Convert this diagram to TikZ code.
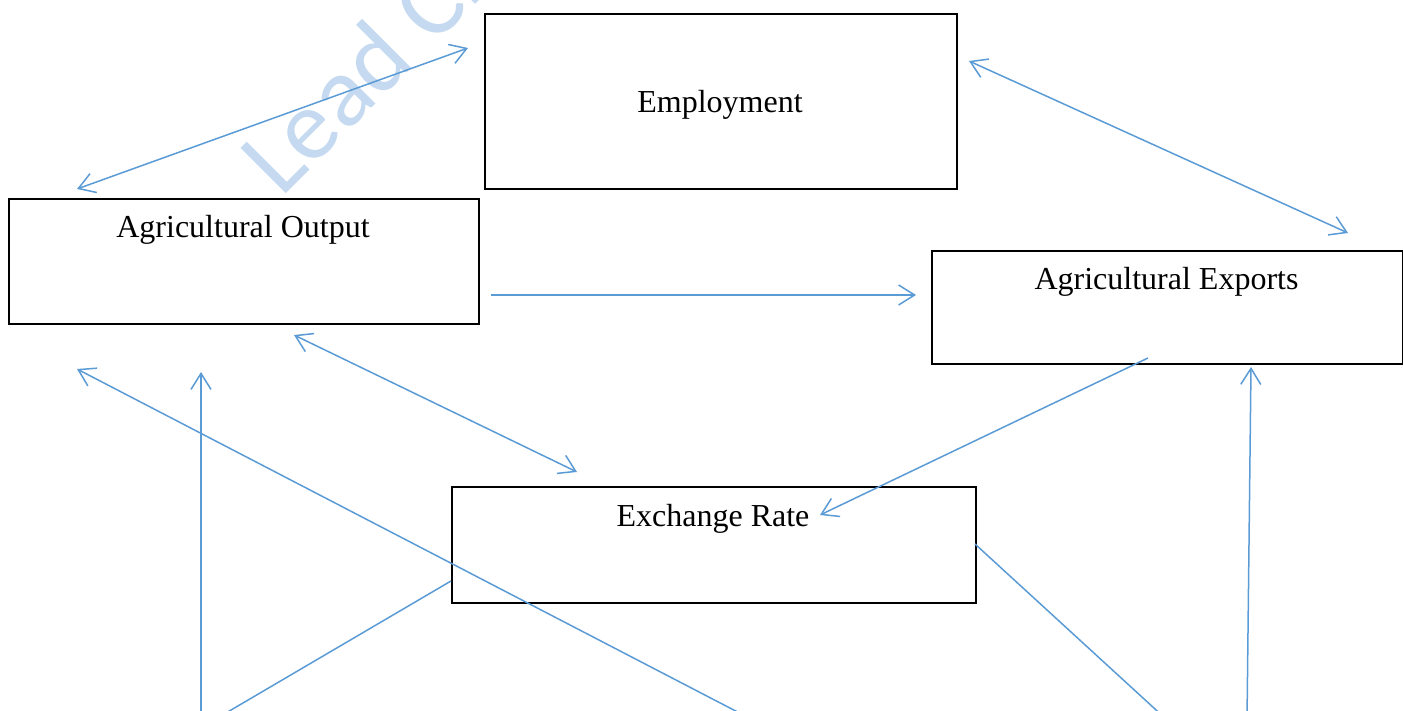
\documentclass[tikz,border=0pt]{standalone}
\usepackage{fontspec}
\setmainfont{Liberation Serif}
\newfontfamily\wmfont{Carlito}
\usetikzlibrary{arrows.meta}
\definecolor{arrowblue}{RGB}{91,155,213}
\definecolor{wmblue}{RGB}{197,218,240}
\begin{document}
\begin{tikzpicture}[x=1pt,y=-1pt,
  box/.style={draw=black, line width=1.7pt, inner sep=0pt, anchor=north west},
  lbl/.style={anchor=base, inner sep=0pt, font=\fontsize{32}{38}\selectfont},
  wm/.style={anchor=base west, inner sep=0pt, rotate=45, text=wmblue, font=\wmfont\fontsize{100}{120}\selectfont},
  conn/.style={draw=arrowblue, line width=1.5pt},
  onehead/.style={conn, -{Straight Barb[length=16pt,width=20pt]}},
  twohead/.style={conn, {Straight Barb[length=16pt,width=20pt]}-{Straight Barb[length=16pt,width=20pt]}}]
\clip (0,0) rectangle (1403,711);
% watermark
\node[wm] (wmark) at (281,199) {Lead City};
% boxes
\node[box, minimum width=472pt, minimum height=175pt] (emp) at (484,13) {};
\node[box, minimum width=470pt, minimum height=125pt] (out) at (8,198) {};
\node[box, minimum width=471pt, minimum height=113pt] (exp) at (931,250) {};
\node[box, minimum width=524pt, minimum height=116pt] (rate) at (451,486) {};
% labels
\node[lbl] (empT) at (720,113) {Employment};
\node[lbl] (outT) at (243,238) {Agricultural Output};
\node[lbl] (expT) at (1166.5,290) {Agricultural Exports};
\node[lbl] (rateT) at (713,526) {Exchange Rate};
% connector end points
\coordinate (a1) at (77,189);   \coordinate (a2) at (468,48);
\coordinate (b1) at (969,61);   \coordinate (b2) at (1348,233);
\coordinate (c1) at (491,295);  \coordinate (c2) at (916,295);
\coordinate (d1) at (294,335);  \coordinate (d2) at (577,472);
\coordinate (e1) at (1148,358); \coordinate (e2) at (820,515);
\coordinate (f1) at (451,581);  \coordinate (f2) at (214,720);
\coordinate (g1) at (201,720);  \coordinate (g2) at (201,372);
\coordinate (h1) at (753,720);  \coordinate (h2) at (77,369);
\coordinate (i1) at (975,544);  \coordinate (i2) at (1167,720);
\coordinate (j1) at (1247,720); \coordinate (j2) at (1251,367);
% connectors
\draw[twohead] (a1) -- (a2);
\draw[twohead] (b1) -- (b2);
\draw[onehead] (c1) -- (c2);
\draw[twohead] (d1) -- (d2);
\draw[onehead] (e1) -- (e2);
\draw[conn] (f1) -- (f2);
\draw[onehead] (g1) -- (g2);
\draw[onehead] (h1) -- (h2);
\draw[conn] (i1) -- (i2);
\draw[onehead] (j1) -- (j2);
\end{tikzpicture}
\end{document}
